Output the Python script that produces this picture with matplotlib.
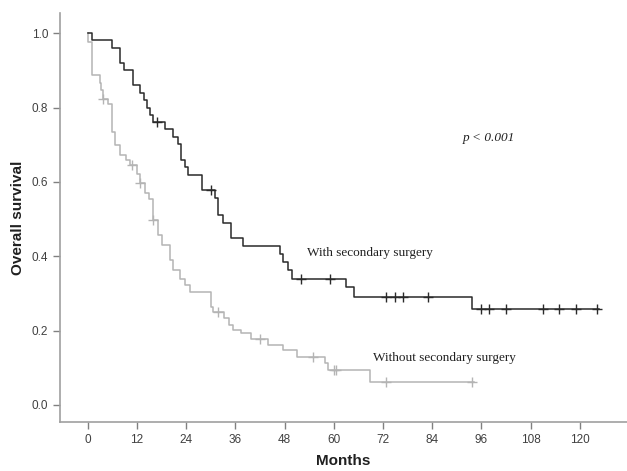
import matplotlib
matplotlib.use('Agg')
import matplotlib.pyplot as plt

# with secondary surgery: event times (months) and survival after each step
with_t = [0, 0.9, 5.8, 7.9, 8.8, 11.0, 12.8, 13.7, 14.3, 15.1, 15.9, 18.8, 20.8, 22.0,
          22.8, 23.6, 24.5, 27.9, 31.0, 31.8, 33.0, 35.0, 37.9, 46.8, 47.6, 48.9, 49.7,
          62.9, 65.0, 93.8]
with_s = [1.0, 0.981, 0.960, 0.920, 0.900, 0.860, 0.840, 0.820, 0.800, 0.780, 0.762, 0.742,
          0.722, 0.702, 0.660, 0.640, 0.618, 0.578, 0.556, 0.511, 0.490, 0.450, 0.427, 0.406,
          0.385, 0.363, 0.340, 0.316, 0.291, 0.257]
with_cens = [16.8, 30.0, 52.0, 59.0, 72.8, 74.9, 76.9, 83.0, 95.9, 97.9, 102.0, 110.9,
             115.0, 119.0, 124.1]

# without secondary surgery
wo_t = [0, 0.1, 0.9, 2.9, 3.3, 3.6, 5.0, 5.8, 6.6, 7.8, 9.4, 10.2, 11.9, 12.6, 13.9, 14.8,
        15.9, 17.1, 18.0, 20.0, 20.8, 22.4, 23.7, 24.9, 30.0, 30.4, 33.2, 34.4, 35.4, 37.3,
        39.9, 44.0, 47.6, 50.9, 57.8, 58.6, 68.8]
wo_s = [1.0, 0.976, 0.887, 0.865, 0.847, 0.824, 0.810, 0.735, 0.699, 0.672, 0.660, 0.645,
        0.620, 0.596, 0.569, 0.553, 0.497, 0.457, 0.430, 0.390, 0.363, 0.340, 0.323, 0.305,
        0.264, 0.251, 0.233, 0.215, 0.202, 0.193, 0.177, 0.161, 0.148, 0.130, 0.112, 0.094,
        0.062]
wo_cens = [3.8, 10.8, 12.8, 16.0, 31.8, 42.0, 55.0, 60.0, 60.6, 72.7, 93.7]
wo_end = 94.1
with_end = 124.7


def surv_at(times, surv, x):
    val = surv[0]
    for t, s in zip(times, surv):
        if t <= x:
            val = s
    return val


def draw(ax, times, surv, cens, end, color):
    xs = list(times) + [end]
    ys = list(surv) + [surv[-1]]
    ax.step(xs, ys, where='post', color=color, lw=1.1)
    cy = [surv_at(times, surv, c) for c in cens]
    ax.plot(cens, cy, '+', color=color, ms=6.5, mew=1.0)


fig = plt.figure(figsize=(6.27, 4.71), dpi=100)
ax = fig.add_axes([0.0957, 0.104, 0.9043, 0.868])

draw(ax, wo_t, wo_s, wo_cens, wo_end, '#b4b4b4')
draw(ax, with_t, with_s, with_cens, with_end, '#2a2a2a')

ax.set_xlim(-6.8, 131.5)
ax.set_ylim(-0.046, 1.054)
ax.set_xticks(range(0, 121, 12))
ax.set_yticks([0.0, 0.2, 0.4, 0.6, 0.8, 1.0])
ax.set_yticklabels(['0.0', '0.2', '0.4', '0.6', '0.8', '1.0'])
for sp in ['top', 'right']:
    ax.spines[sp].set_visible(False)
for sp in ['left', 'bottom']:
    ax.spines[sp].set_color('#a0a0a0')
    ax.spines[sp].set_linewidth(1.2)
ax.tick_params(axis='both', direction='out', length=5, width=1.0, color='#808080',
               labelsize=8.5, labelcolor='#404040')
for lab in ax.get_xticklabels() + ax.get_yticklabels():
    lab.set_family('Liberation Sans')

ax.set_xlabel('Months', fontsize=11, fontweight='bold', family='Liberation Sans',
              color='#202020', labelpad=6)
ax.set_ylabel('Overall survival', fontsize=11, fontweight='bold', family='Liberation Sans',
              color='#202020', labelpad=5)

ax.text(53.5, 0.408, 'With secondary surgery', fontsize=9.5, family='Liberation Serif',
        color='#202020', va='center')
ax.text(69.5, 0.126, 'Without secondary surgery', fontsize=9.5, family='Liberation Serif',
        color='#202020', va='center')
ax.text(91.5, 0.718, 'p < 0.001', fontsize=9.5, family='Liberation Serif',
        style='italic', color='#202020', va='center')

fig.savefig('out.png', dpi=100)
